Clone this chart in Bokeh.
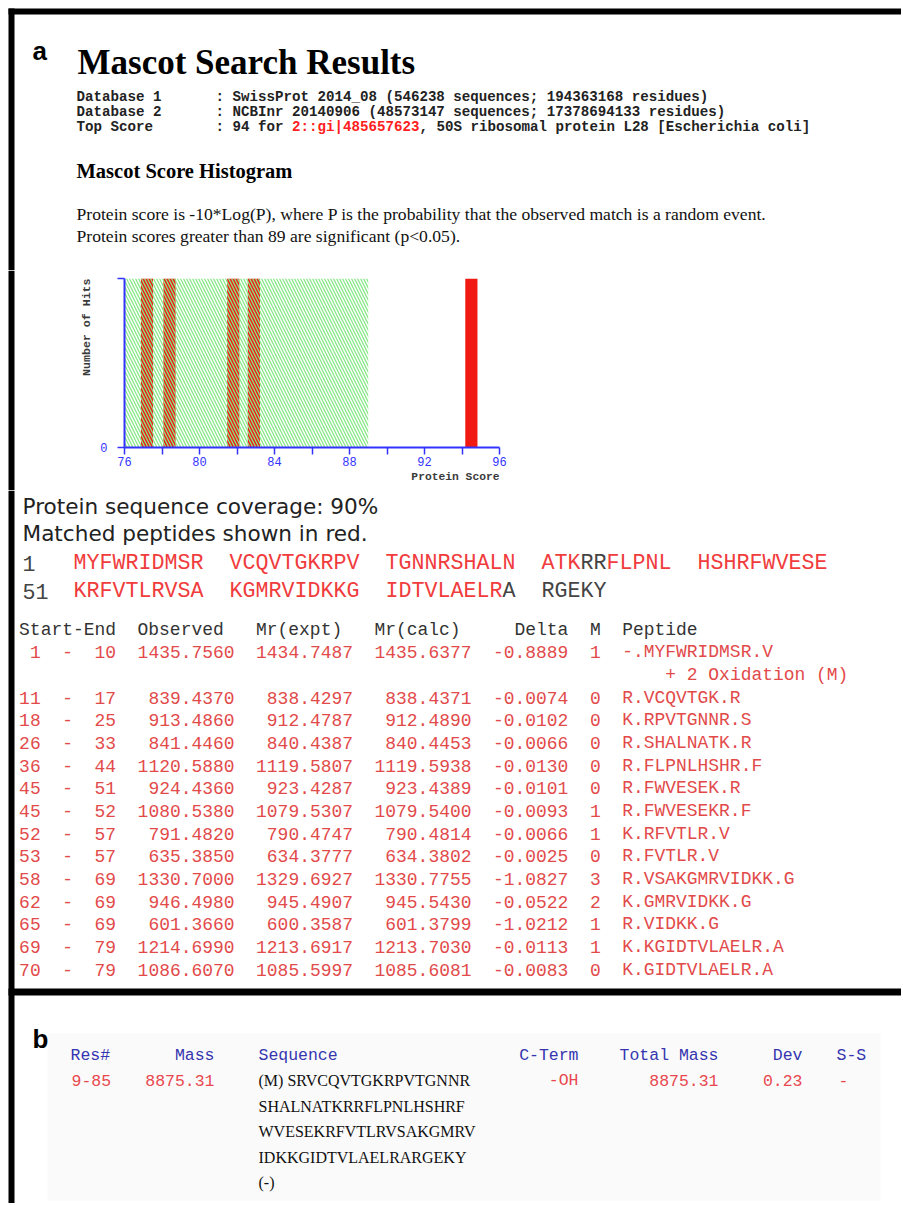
from bokeh.plotting import figure
from bokeh.layouts import column, row
from bokeh.models import Range1d, FixedTicker, Title
from bokeh.core.properties import value
from bokeh.embed import file_html
from bokeh.resources import INLINE

# ---------------- data ----------------
db_labels = ["Database 1", "Database 2", "Top Score"]
db_values = [": SwissProt 2014_08 (546238 sequences; 194363168 residues)",
             ": NCBInr 20140906 (48573147 sequences; 17378694133 residues)"]
top_score_prefix = ": 94 for "
top_hit = "2::gi|485657623"
top_desc = ", 50S ribosomal protein L28 [Escherichia coli]"
score_text = ["Protein score is -10*Log(P), where P is the probability that the observed match is a random event.",
              "Protein scores greater than 89 are significant (p<0.05)."]

score_min, score_max = 76, 96
sig_threshold = 89
hist_scores = [77.2, 78.4, 81.8, 82.9, 94.5]
hist_counts = [1, 1, 1, 1, 1]
score_ticks = [76, 78, 80, 82, 84, 86, 88, 90, 92, 94, 96]
score_tick_labels = ["76", "", "80", "", "84", "", "88", "", "92", "", "96"]
x_title = "Protein Score"
y_title = "Number of Hits"

coverage_text = "Protein sequence coverage: 90%"
matched_text = "Matched peptides shown in red."
sequence = "MYFWRIDMSRVCQVTGKRPVTGNNRSHALNATKRRFLPNLHSHRFWVESEKRFVTLRVSAKGMRVIDKKGIDTVLAELRARGEKY"

pep_start = [1, 11, 18, 26, 36, 45, 45, 52, 53, 58, 62, 65, 69, 70]
pep_end = [10, 17, 25, 33, 44, 51, 52, 57, 57, 69, 69, 69, 79, 79]
pep_observed = [1435.7560, 839.4370, 913.4860, 841.4460, 1120.5880, 924.4360, 1080.5380,
                791.4820, 635.3850, 1330.7000, 946.4980, 601.3660, 1214.6990, 1086.6070]
pep_mr_expt = [1434.7487, 838.4297, 912.4787, 840.4387, 1119.5807, 923.4287, 1079.5307,
               790.4747, 634.3777, 1329.6927, 945.4907, 600.3587, 1213.6917, 1085.5997]
pep_mr_calc = [1435.6377, 838.4371, 912.4890, 840.4453, 1119.5938, 923.4389, 1079.5400,
               790.4814, 634.3802, 1330.7755, 945.5430, 601.3799, 1213.7030, 1085.6081]
pep_delta = [-0.8889, -0.0074, -0.0102, -0.0066, -0.0130, -0.0101, -0.0093,
             -0.0066, -0.0025, -1.0827, -0.0522, -1.0212, -0.0113, -0.0083]
pep_miss = [1, 0, 0, 0, 0, 0, 1, 1, 0, 3, 2, 1, 1, 0]
pep_seq = ["-.MYFWRIDMSR.V", "R.VCQVTGK.R", "K.RPVTGNNR.S", "R.SHALNATK.R", "R.FLPNLHSHR.F",
           "R.FWVESEK.R", "R.FWVESEKR.F", "K.RFVTLR.V", "R.FVTLR.V", "R.VSAKGMRVIDKK.G",
           "K.GMRVIDKK.G", "R.VIDKK.G", "K.KGIDTVLAELR.A", "K.GIDTVLAELR.A"]
pep_mods = ["+ 2 Oxidation (M)", "", "", "", "", "", "", "", "", "", "", "", "", ""]
table_headers = ["Start-End", "Observed", "Mr(expt)", "Mr(calc)", "Delta", "M", "Peptide"]

b_headers = ["Res#", "Mass", "Sequence", "C-Term", "Total Mass", "Dev", "S-S"]
b_res = (9, 85)
b_mass = 8875.31
b_prev = "(M)"
b_next = "(-)"
b_cterm = "-OH"
b_total = 8875.31
b_dev = 0.23
b_ss = "-"

# ---------------- styles ----------------
MONO = "Liberation Mono"
SERIF = "Liberation Serif"
SANS = "Liberation Sans"
RED = "#f03c3c"
TRED = "#e24a4a"
BLUE = "#3333ff"
BBLUE = "#3535b0"
GREY = "#444444"
PW = 901          # page width used
Y_TOP, Y_HIST, Y_BOT, Y_END = 0, 270, 490, 1203


def canvas(x0, x1, y0, y1):
    p = figure(width=x1 - x0, height=y1 - y0, x_range=Range1d(x0, x1), y_range=Range1d(y1, y0),
               x_axis_type=None, y_axis_type=None, output_backend="svg", toolbar_location=None,
               min_border=0, outline_line_color=None, background_fill_color="white",
               border_fill_color="white")
    p.grid.visible = False
    p.frame_align = False
    return p


def txt(p, x, y, s, size, font=MONO, color="#222222", align="left", baseline="middle", style="normal"):
    p.text(x=[x], y=[y], text=[s], text_font=value(font), text_font_size=value(f"{size}px"),
           text_color=color, text_align=align, text_baseline=baseline, text_font_style=style)


def bar(p, l, r, t, b, color="black"):
    p.quad(left=[l], right=[r], top=[t], bottom=[b], fill_color=color, line_color=None)


# ---------------- top section ----------------
top = canvas(0, PW, Y_TOP, Y_HIST)
bar(top, 8, PW, 8, 14)
bar(top, 8, 14, 8, Y_HIST)
txt(top, 32, 50, "a", 26, font=SANS, color="black", baseline="alphabetic", style="bold")
txt(top, 77, 62, "Mascot Search Results", 35, font=SERIF, color="black", baseline="alphabetic", style="bold")

DB_CW = 8.5
DB_FS = DB_CW / 0.6001
db_y = [96, 111, 126]
for lab, y in zip(db_labels, db_y):
    txt(top, 76, y, lab, DB_FS, style="bold")
for val, y in zip(db_values, db_y[:2]):
    txt(top, 215, y, val, DB_FS, style="bold")
txt(top, 215, db_y[2], top_score_prefix, DB_FS, style="bold")
txt(top, 215 + len(top_score_prefix) * DB_CW, db_y[2], top_hit, DB_FS, color="#ff2020", style="bold")
txt(top, 215 + (len(top_score_prefix) + len(top_hit)) * DB_CW, db_y[2], top_desc, DB_FS, style="bold")

txt(top, 76, 170, "Mascot Score Histogram", 20.5, font=SERIF, color="black", style="bold")
for s, y in zip(score_text, [213, 235]):
    txt(top, 76, y, s, 17.6, font=SERIF, color="#111111")

# ---------------- histogram ----------------
HX0 = 60
strip = canvas(0, HX0, Y_HIST, Y_BOT)
bar(strip, 8, 14, Y_HIST, Y_BOT)

FRAME_L, FRAME_R, FRAME_T, FRAME_B = 124, 499, 278, 447
hist = figure(width=PW - HX0, height=Y_BOT - Y_HIST, x_range=Range1d(score_min, score_max),
              y_range=Range1d(0, max(hist_counts)), output_backend="svg", toolbar_location=None,
              min_border_left=FRAME_L - HX0, min_border_right=PW - FRAME_R,
              min_border_top=FRAME_T - Y_HIST, min_border_bottom=Y_BOT - FRAME_B,
              outline_line_color=None, background_fill_color="white", border_fill_color="white")
hist.frame_align = False
hist.grid.visible = False
hist.vbar(x=hist_scores, top=hist_counts, width=0.65, bottom=0, fill_color="#f01a12", line_color=None)
hist.quad(left=[score_min], right=[sig_threshold], bottom=[0], top=[max(hist_counts)],
          fill_alpha=0, line_color=None, hatch_pattern="\\", hatch_color="#86e886",
          hatch_scale=6, hatch_weight=1.3)

xa = hist.xaxis[0]
xa.ticker = FixedTicker(ticks=score_ticks)
xa.major_label_overrides = {t: l for t, l in zip(score_ticks, score_tick_labels)}
ya = hist.yaxis[0]
ya.ticker = FixedTicker(ticks=[0, max(hist_counts)])
ya.major_label_overrides = {max(hist_counts): ""}
for ax in (xa, ya):
    ax.axis_line_color = BLUE
    ax.axis_line_width = 2
    ax.major_tick_line_color = BLUE
    ax.major_tick_line_width = 1.5
    ax.major_tick_in = 0
    ax.major_tick_out = 7
    ax.minor_tick_line_color = None
    ax.major_label_text_color = BLUE
    ax.major_label_text_font = MONO
    ax.major_label_text_font_size = "12px"
xa.major_label_standoff = 2
ya.major_label_standoff = 10

hist.add_layout(Title(text=x_title, align="right", text_font=MONO, text_font_size="11.3px",
                      text_font_style="bold", text_color="#3a3a3a", standoff=0, offset=0), "below")
hist.add_layout(Title(text=y_title, align="right", text_font=MONO, text_font_size="11.6px",
                      text_font_style="bold", text_color="#3a3a3a", standoff=10, offset=0), "left")

# ---------------- bottom section ----------------
bot = canvas(0, PW, Y_BOT, Y_END)
bar(bot, 8, 14, Y_BOT, Y_END)
bar(bot, 8, PW, 988, 995)

txt(bot, 22, 506, coverage_text, 21.6, font="DejaVu Sans", color="#222222")
txt(bot, 22, 533, matched_text, 21.6, font="DejaVu Sans", color="#222222")

covered = [False] * len(sequence)
for s, e in zip(pep_start, pep_end):
    for i in range(s - 1, e):
        covered[i] = True

SEQ_X0, SEQ_CW = 73, 13.0
SEQ_FS = SEQ_CW / 0.6001
for li, y in enumerate([563, 591]):
    r0 = li * 50
    txt(bot, 22, y, str(r0 + 1), SEQ_FS, color=GREY)
    k = r0
    r1 = min(r0 + 50, len(sequence))
    while k < r1:
        rel = k - r0
        grp = rel // 10
        j = k
        while j < r1 and (j - r0) // 10 == grp and covered[j] == covered[k]:
            j += 1
        idx = grp * 12 + rel % 10
        txt(bot, SEQ_X0 + idx * SEQ_CW, y, sequence[k:j], SEQ_FS, color=RED if covered[k] else GREY)
        k = j

T_X0, T_CW = 18.6, 10.77
T_FS = T_CW / 0.6001
T_Y0, T_DY = 629, 22.67


def tx(i):
    return T_X0 + i * T_CW


hdr_idx = [0, 11, 22, 33, 46, 53, 56]
for h, i in zip(table_headers, hdr_idx):
    txt(bot, tx(i), T_Y0, h, T_FS, color="#333333")

line = 1
for n in range(len(pep_start)):
    y = T_Y0 + T_DY * line
    txt(bot, tx(2), y, str(pep_start[n]), T_FS, color=TRED, align="right")
    txt(bot, tx(4), y, "-", T_FS, color=TRED)
    txt(bot, tx(9), y, str(pep_end[n]), T_FS, color=TRED, align="right")
    txt(bot, tx(20), y, f"{pep_observed[n]:.4f}", T_FS, color=TRED, align="right")
    txt(bot, tx(31), y, f"{pep_mr_expt[n]:.4f}", T_FS, color=TRED, align="right")
    txt(bot, tx(42), y, f"{pep_mr_calc[n]:.4f}", T_FS, color=TRED, align="right")
    txt(bot, tx(51), y, f"{pep_delta[n]:.4f}", T_FS, color=TRED, align="right")
    txt(bot, tx(53), y, str(pep_miss[n]), T_FS, color=TRED)
    txt(bot, tx(56), y, pep_seq[n], T_FS, color=TRED)
    line += 1
    if pep_mods[n]:
        txt(bot, tx(60), T_Y0 + T_DY * line, pep_mods[n], T_FS, color=TRED)
        line += 1

# panel b
bar(bot, 47, 880, 1200, 1033, color="#fafafa")
txt(bot, 32, 1038, "b", 26, font=SANS, color="black", baseline="alphabetic", style="bold")
B_FS = 9.9 / 0.6001
BY = 1055
b_hx = [(70, "left"), (214, "right"), (258, "left"), (578, "right"), (718, "right"), (802, "right"), (836, "left")]
for h, (x, a) in zip(b_headers, b_hx):
    txt(bot, x, BY, h, B_FS, color=BBLUE, align=a)
RY = 1080
BRED = "#e8484e"
txt(bot, 71, RY, f"{b_res[0]}-{b_res[1]}", B_FS, color=BRED)
txt(bot, 214, RY, f"{b_mass:.2f}", B_FS, color=BRED, align="right")
txt(bot, 578, RY, b_cterm, B_FS, color=BRED, align="right")
txt(bot, 718, RY, f"{b_total:.2f}", B_FS, color=BRED, align="right")
txt(bot, 802, RY, f"{b_dev:.2f}", B_FS, color=BRED, align="right")
txt(bot, 838, RY, b_ss, B_FS, color=BRED)

sub = sequence[b_res[0] - 1:b_res[1]]
b_lines = [b_prev + " " + sub[:17]] + [sub[i:i + 20] for i in range(17, len(sub), 20)] + [b_next]
for i, s in enumerate(b_lines):
    txt(bot, 258, RY + 25.5 * i, s, 16, font=SERIF, color="#111111")

layout = column(top, row(strip, hist), bot)
open("out.html", "w").write(file_html(layout, INLINE))
